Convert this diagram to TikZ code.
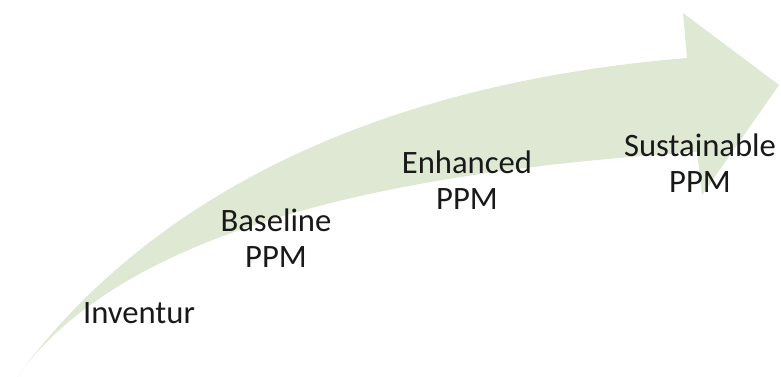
\documentclass[tikz,border=0pt]{standalone}
\usepackage{fontspec}
\setmainfont{Carlito}
\definecolor{arrowgreen}{RGB}{222,232,211}
\begin{document}
\begin{tikzpicture}[
        x=0.75pt, y=-0.75pt,
        stage/.style={anchor=base, align=center, inner sep=0pt, text=black!90, font=\fontsize{24.5}{27}\selectfont},
        bigarrow/.style={fill=arrowgreen, draw=none}
    ]
        \useasboundingbox (0,0) rectangle (781,377);
        % Arrow
        \fill[bigarrow] (17,377) .. controls (110,250) and (300,90) .. (687,58)
            -- (683,13) -- (779,85) -- (702,195) -- (697,152)
            .. controls (420,170) and (130,220) .. (17,377) -- cycle;
        
        % Stages
        \node[stage] (inventur) at (139,324) {Inventur};
        \node[stage] (baseline) at (276,268) {Baseline\\PPM};
        \node[stage] (enhanced) at (467,210) {Enhanced\\PPM};
        \node[stage] (sustainable) at (700,193) {Sustainable\\PPM};
    \end{tikzpicture}
\end{document}
